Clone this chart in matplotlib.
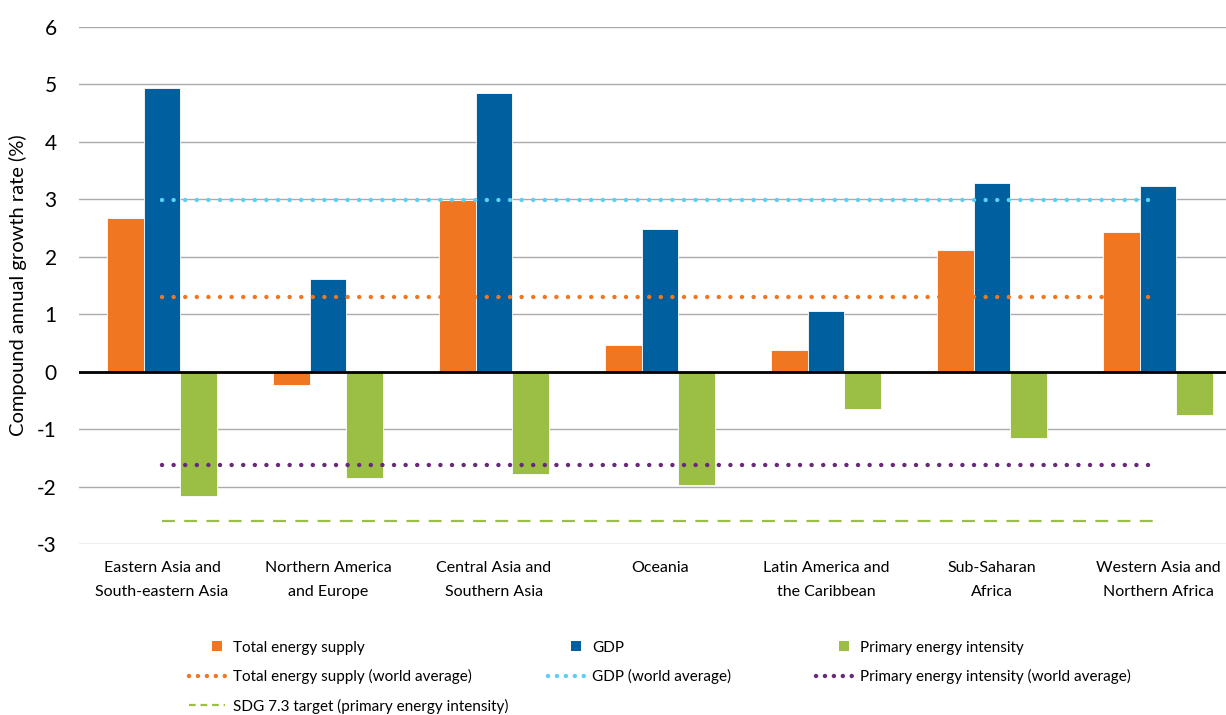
import matplotlib
matplotlib.use("Agg")
import matplotlib.pyplot as plt
import numpy as np
from matplotlib.lines import Line2D
from matplotlib.path import Path

plt.rcParams['font.family'] = ['Lato', 'DejaVu Sans']
plt.rcParams['axes.unicode_minus'] = False

regions = ['Eastern Asia and\nSouth-eastern Asia', 'Northern America\nand Europe',
           'Central Asia and\nSouthern Asia', 'Oceania', 'Latin America and\nthe Caribbean',
           'Sub-Saharan\nAfrica', 'Western Asia and\nNorthern Africa']
energy_supply = [2.67, -0.23, 2.98, 0.47, 0.38, 2.11, 2.43]
gdp = [4.94, 1.62, 4.85, 2.49, 1.05, 3.29, 3.23]
energy_intensity = [-2.16, -1.85, -1.78, -1.98, -0.65, -1.15, -0.76]

energy_supply_world = 1.3
gdp_world = 2.98
intensity_world = -1.63
sdg_target = -2.6

c_orange = '#F07622'
c_blue = '#005F9E'
c_green = '#9BBE44'
c_cyan = '#5CCFF5'
c_purple = '#682A78'

fig = plt.figure(figsize=(12.26, 7.15), dpi=100)
ax = fig.add_axes([79 / 1226, 1 - 544 / 715, 1 - 79 / 1226, (544 - 27) / 715])

x = np.arange(len(regions))
w = 0.22
ax.bar(x - w, energy_supply, w, color=c_orange, edgecolor='white', linewidth=0.6, zorder=2)
ax.bar(x, gdp, w, color=c_blue, edgecolor='white', linewidth=0.6, zorder=2)
ax.bar(x + w, energy_intensity, w, color=c_green, edgecolor='white', linewidth=0.6, zorder=2)

dot = dict(linewidth=3.2, dash_capstyle='round', zorder=3)
ax.plot(x, [gdp_world] * len(x), color=c_cyan, dashes=(0.01, 2.6), **dot)
ax.plot(x, [energy_supply_world] * len(x), color=c_orange, dashes=(0.01, 2.6), **dot)
ax.plot(x, [intensity_world] * len(x), color=c_purple, dashes=(0.01, 2.6), **dot)
ax.plot(x, [sdg_target] * len(x), color=c_green, linewidth=1.6, dashes=(5.8, 4.2), zorder=3)

ax.axhline(0, color='black', linewidth=2, zorder=4)
ax.set_ylim(-3, 6)
ax.set_xlim(-0.5, 6.41)
ax.set_yticks(range(-3, 7))
ax.yaxis.grid(True, color='#ABABAB', linewidth=1)
ax.set_axisbelow(True)
for s in ax.spines.values():
    s.set_visible(False)
ax.tick_params(axis='y', length=0, labelsize=15, pad=16)
ax.tick_params(axis='x', length=0, labelsize=11.5, pad=12)
ax.set_xticks(x)
ax.set_xticklabels(regions, linespacing=1.9)
ax.set_ylabel('Compound annual growth rate (%)', fontsize=14.5, labelpad=7)

leg_kw = dict(frameon=False, fontsize=11, handlelength=2.4, handletextpad=0.5,
              labelspacing=0.95, loc='upper left', borderpad=0)

# square marker pushed to the right end of the legend handle
sq_path = Path([(0.6, -0.5), (1.6, -0.5), (1.6, 0.5), (0.6, 0.5), (0.6, -0.5)],
               [Path.MOVETO, Path.LINETO, Path.LINETO, Path.LINETO, Path.CLOSEPOLY])

def square(color):
    return Line2D([], [], linestyle='none', marker=sq_path, markersize=21, color=color,
                  markeredgewidth=0)

def dotline(color):
    return Line2D([], [], color=color, linewidth=3.2, dashes=(0.01, 2.0), dash_capstyle='round')

col1 = [square(c_orange), dotline(c_orange),
        Line2D([], [], color=c_green, linewidth=1.6, dashes=(3, 2.2))]
lab1 = ['Total energy supply', 'Total energy supply (world average)',
        'SDG 7.3 target (primary energy intensity)']
col2 = [square(c_blue), dotline(c_cyan)]
lab2 = ['GDP', 'GDP (world average)']
col3 = [square(c_green), dotline(c_purple)]
lab3 = ['Primary energy intensity', 'Primary energy intensity (world average)']

fig.legend(col1, lab1, bbox_to_anchor=(181 / 1226, 1 - 633 / 715), **leg_kw)
fig.legend(col2, lab2, bbox_to_anchor=(540 / 1226, 1 - 633 / 715), **leg_kw)
fig.legend(col3, lab3, bbox_to_anchor=(808 / 1226, 1 - 633 / 715), **leg_kw)

fig.savefig('out.png', dpi=100)
